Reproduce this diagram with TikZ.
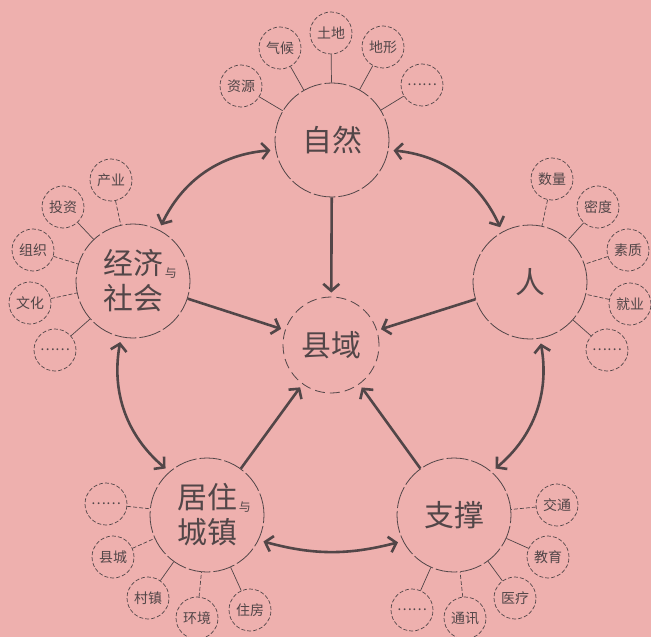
\documentclass[tikz,border=0pt]{standalone}
\usepackage{fontspec}
\setmainfont{Noto Sans CJK SC}
\usepackage{tikz}
\usetikzlibrary{calc,arrows.meta}
\definecolor{paper}{RGB}{238,176,174}
\definecolor{ink}{RGB}{82,70,72}
\newcommand{\smallyu}{\raisebox{-3bp}{\fontsize{12}{12}\selectfont\,与}}
\tikzstyle{mainnode}=[
  draw=ink,circle,inner sep=0pt,minimum size=114bp,line width=0.8bp,
  dash pattern=on 22bp off 3bp,text=ink,align=center,
  font=\fontsize{30}{35}\selectfont
]
\tikzstyle{corenode}=[
  mainnode,minimum size=96bp,dash pattern=on 10bp off 5bp
]
\tikzstyle{subnode}=[
  draw=ink,circle,inner sep=0pt,minimum size=42bp,line width=0.7bp,
  dash pattern=on 4bp off 2bp,text=ink,font=\fontsize{14}{14}\selectfont
]
\tikzstyle{link}=[
  draw=ink,line width=0.7bp
]
\tikzstyle{dashlink}=[
  link,dash pattern=on 4bp off 2bp
]
\tikzstyle{flow}=[
  draw=ink,line width=2.6bp,-{Straight Barb[length=7bp,width=16bp]},shorten >=4bp
]
\tikzstyle{mutual}=[
  flow,{Straight Barb[length=7bp,width=16bp]}-{Straight Barb[length=7bp,width=16bp]},
  shorten <=5bp,shorten >=5bp
]

\begin{document}
\begin{tikzpicture}[x=1bp,y=-1bp]
  \fill[paper] (0,0) rectangle (651,637);
  \useasboundingbox (0,0) rectangle (651,637);
  % centre and the five parts
  \node (xianyu) at (331,345) [corenode] {县域};
  \node (ziran) at (332,140) [mainnode] {自然};
  \node (jingji) at (133,281) [mainnode] {经济\rlap{\smallyu}\\社会};
  \node (ren) at (530,282) [mainnode] {人};
  \node (juzhu) at (207,515) [mainnode] {居住\rlap{\smallyu}\\城镇};
  \node (zhicheng) at (454,515) [mainnode] {支撑};
  % nature
  \node (ziyuan) at ($(ziran) + (-91,-54)$) [subnode] {资源};
  \node (qihou) at ($(ziran) + (-52,-92)$) [subnode] {气候};
  \node (tudi) at ($(ziran) + (-1,-107)$) [subnode] {土地};
  \node (dixing) at ($(ziran) + (51,-93)$) [subnode] {地形};
  \node (ziranmore) at ($(ziran) + (90,-55)$) [subnode] {……};
  % economy and society
  \node (chanye) at ($(jingji) + (-22,-101)$) [subnode] {产业};
  \node (touzi) at ($(jingji) + (-70,-74)$) [subnode] {投资};
  \node (zuzhi) at ($(jingji) + (-100,-31)$) [subnode] {组织};
  \node (wenhua) at ($(jingji) + (-103,22)$) [subnode] {文化};
  \node (jingjimore) at ($(jingji) + (-78,69)$) [subnode] {……};
  % people
  \node (shuliang) at ($(ren) + (22,-103)$) [subnode] {数量};
  \node (midu) at ($(ren) + (68,-75)$) [subnode] {密度};
  \node (suzhi) at ($(ren) + (98,-32)$) [subnode] {素质};
  \node (jiuye) at ($(ren) + (100,22)$) [subnode] {就业};
  \node (renmore) at ($(ren) + (77,68)$) [subnode] {……};
  % living and towns
  \node (juzhumore) at ($(juzhu) + (-101,-11)$) [subnode] {……};
  \node (xiancheng) at ($(juzhu) + (-94,42)$) [subnode] {县城};
  \node (cunzhen) at ($(juzhu) + (-59,83)$) [subnode] {村镇};
  \node (huanjing) at ($(juzhu) + (-10,103)$) [subnode] {环境};
  \node (zhufang) at ($(juzhu) + (43,95)$) [subnode] {住房};
  % support
  \node (jiaotong) at ($(zhicheng) + (103,-10)$) [subnode] {交通};
  \node (jiaoyu) at ($(zhicheng) + (94,42)$) [subnode] {教育};
  \node (yiliao) at ($(zhicheng) + (61,83)$) [subnode] {医疗};
  \node (tongxun) at ($(zhicheng) + (11,103)$) [subnode] {通讯};
  \node (zhichengmore) at ($(zhicheng) + (-42,95)$) [subnode] {……};

  \draw [link] (ziyuan) -- (ziran);
  \draw [link] (qihou) -- (ziran);
  \draw [link] (tudi) -- (ziran);
  \draw [link] (dixing) -- (ziran);
  \draw [link] (ziranmore) -- (ziran);
  \draw [dashlink] (chanye) -- (jingji);
  \draw [link] (touzi) -- (jingji);
  \draw [dashlink] (zuzhi) -- (jingji);
  \draw [dashlink] (wenhua) -- (jingji);
  \draw [link] (jingjimore) -- (jingji);
  \draw [dashlink] (shuliang) -- (ren);
  \draw [link] (midu) -- (ren);
  \draw [dashlink] (suzhi) -- (ren);
  \draw [dashlink] (jiuye) -- (ren);
  \draw [link] (renmore) -- (ren);
  \draw [dashlink] (juzhumore) -- (juzhu);
  \draw [dashlink] (xiancheng) -- (juzhu);
  \draw [link] (cunzhen) -- (juzhu);
  \draw [dashlink] (huanjing) -- (juzhu);
  \draw [link] (zhufang) -- (juzhu);
  \draw [dashlink] (jiaotong) -- (zhicheng);
  \draw [link] (jiaoyu) -- (zhicheng);
  \draw [link] (yiliao) -- (zhicheng);
  \draw [dashlink] (tongxun) -- (zhicheng);
  \draw [link] (zhichengmore) -- (zhicheng);

  \draw [flow] (ziran) -- (xianyu);
  \draw [flow] (jingji) -- (xianyu);
  \draw [flow] (ren) -- (xianyu);
  \draw [flow] (juzhu) -- (xianyu);
  \draw [flow] (zhicheng) -- (xianyu);
  \draw [mutual] (jingji.63) to[bend left=30] (ziran.190);
  \draw [mutual] (ziran.350) to[bend left=30] (ren.119);
  \draw [mutual] (jingji.258) to[bend right=30] (juzhu.131);
  \draw [mutual] (ren.280) to[bend left=30] (zhicheng.49);
  \draw [mutual] (juzhu.334) to[bend right=15] (zhicheng.207);
\end{tikzpicture}
\end{document}
